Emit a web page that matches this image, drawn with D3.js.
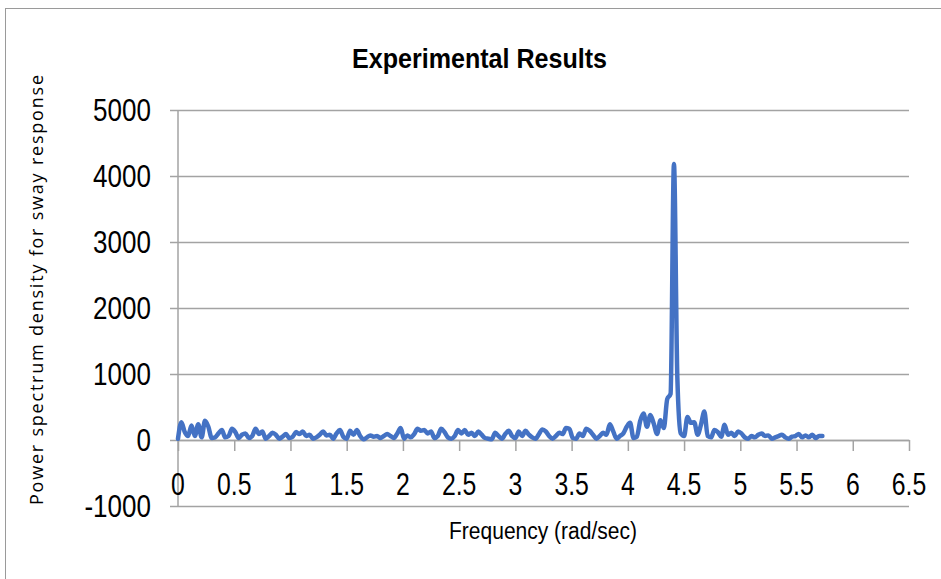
<!DOCTYPE html>
<html>
<head>
<meta charset="utf-8">
<script src="https://cdn.jsdelivr.net/npm/d3@7"></script>
<style>
	body { margin: 0; background: #fff; }
	svg { display: block; }
</style>
</head>
<body>
<div id="divChart"></div>
<script>
// sway PSD, sampled every 0.03 rad/s starting at 0
const freqStart = 0;
const freqStep = 0.03;
const psdValues = [
	20, 270, 120, 60, 220, 60, 240, 40, 290, 200,
	30, 40, 100, 150, 40, 60, 170, 120, 30, 80,
	100, 30, 60, 170, 90, 130, 20, 60, 110, 80,
	20, 50, 90, 30,
	50, 120, 90, 130, 60, 80, 20, 40, 80, 130,
	70, 80, 20, 100, 150, 50, 20, 140, 80, 150,
	60, 10, 40, 70, 50, 60, 30, 60, 90, 60,
	30, 100, 180, 20, 70,
	40, 90, 170, 140, 150, 100, 130, 30, 60, 170,
	120, 40, 20, 60, 150, 100, 150, 80, 110, 60,
	130, 80, 30, 20, 10, 110, 60, 20, 90, 140,
	60, 30, 130, 60, 140,
	80, 40, 20, 90, 160, 130, 60, 20, 60, 110,
	90, 180, 170, 30, 20, 100, 60, 170, 140, 80,
	20, 60, 110, 80, 240, 130, 20, 60, 100, 200,
	260, 30, 50, 290, 400, 200, 380, 250, 90, 300,
	180, 620, 700,
	4180, 950, 100, 60, 350, 260, 270, 80, 230, 430,
	60, 40, 150, 120, 50, 230, 80,
	110, 60, 130, 100, 40, 20, 60, 40, 80, 100,
	60, 70, 20, 40, 60, 80, 40, 20, 50, 60,
	90, 40, 70, 40, 80, 30, 60, 60
];
const xTicks = [0, 0.5, 1, 1.5, 2, 2.5, 3, 3.5, 4, 4.5, 5, 5.5, 6, 6.5];
const yTicks = [-1000, 0, 1000, 2000, 3000, 4000, 5000];

const ctx = { width: 941, height: 579 };
const sans = "'Liberation Sans', Arial, sans-serif";

let svg = d3.select("#divChart")
	.append("svg")
	.attr("width", ctx.width)
	.attr("height", ctx.height);

// chart border (only top and left are in frame)
svg.append("rect")
	.attr("x", 5.5)
	.attr("y", 8.5)
	.attr("width", 1000)
	.attr("height", 700)
	.attr("fill", "none")
	.attr("stroke", "#9a9a9a")
	.attr("stroke-width", 1);

let xscale = d3.scaleLinear().domain([0, 6.5]).range([178, 909]);
let yscale = d3.scaleLinear().domain([-1000, 5000]).range([506, 110]);

// gridlines + y ticks
svg.append("g")
	.attr("class", "grid")
	.attr("transform", "translate(" + 909 + ",0)")
	.call(d3.axisLeft(yscale).tickValues(yTicks).tickSize(909 - 170).tickFormat(""))
	.call((g) => g.select(".domain").remove());
svg.selectAll(".grid line").attr("stroke", "#a3a3a3").attr("stroke-width", 1.5);

// y axis line
svg.append("line")
	.attr("x1", 178).attr("x2", 178)
	.attr("y1", yscale(5000)).attr("y2", yscale(-1000))
	.attr("stroke", "#a3a3a3")
	.attr("stroke-width", 1.5);

// y tick labels (squeezed horizontally, narrow look)
svg.append("g")
	.selectAll("text")
	.data(yTicks)
	.join("text")
	.attr("transform", (d) => "translate(151," + (yscale(d) + 11) + ") scale(0.84,1)")
	.attr("text-anchor", "end")
	.style("font-family", sans)
	.style("font-size", "31px")
	.attr("fill", "#000")
	.text((d) => d);

// x axis at zero, ticks pointing down
svg.append("g")
	.attr("class", "x-axis")
	.attr("transform", "translate(0," + yscale(0) + ")")
	.call(d3.axisBottom(xscale).tickValues(xTicks).tickSize(11).tickSizeOuter(0).tickFormat(""));
svg.selectAll(".x-axis path, .x-axis line").attr("stroke", "#a3a3a3").attr("stroke-width", 1.5);

svg.append("g")
	.selectAll("text")
	.data(xTicks)
	.join("text")
	.attr("transform", (d) => "translate(" + xscale(d) + ",495) scale(0.8,1)")
	.attr("text-anchor", "middle")
	.style("font-family", sans)
	.style("font-size", "31px")
	.attr("fill", "#000")
	.text((d) => d);

// data line
let line = d3.line()
	.x((d, i) => xscale(freqStart + i * freqStep))
	.y((d) => yscale(d))
	.curve(d3.curveMonotoneX);

svg.append("path")
	.datum(psdValues)
	.attr("d", line)
	.attr("fill", "none")
	.attr("stroke", "#4472c4")
	.attr("stroke-width", 4.5)
	.attr("stroke-linejoin", "round")
	.attr("stroke-linecap", "round");

// titles
svg.append("text")
	.attr("x", 352)
	.attr("y", 68)
	.attr("textLength", 255)
	.attr("lengthAdjust", "spacingAndGlyphs")
	.style("font-family", sans)
	.style("font-weight", "bold")
	.style("font-size", "27px")
	.text("Experimental Results");

svg.append("text")
	.attr("x", 449)
	.attr("y", 539)
	.attr("textLength", 188)
	.attr("lengthAdjust", "spacingAndGlyphs")
	.style("font-family", sans)
	.style("font-size", "23px")
	.text("Frequency (rad/sec)");

svg.append("text")
	.attr("transform", "translate(43,505) rotate(-90)")
	.attr("textLength", 430)
	.attr("lengthAdjust", "spacing")
	.style("font-family", "'Open Sans', sans-serif")
	.style("font-size", "18px")
	.text("Power spectrum density for sway response");
</script>
</body>
</html>
